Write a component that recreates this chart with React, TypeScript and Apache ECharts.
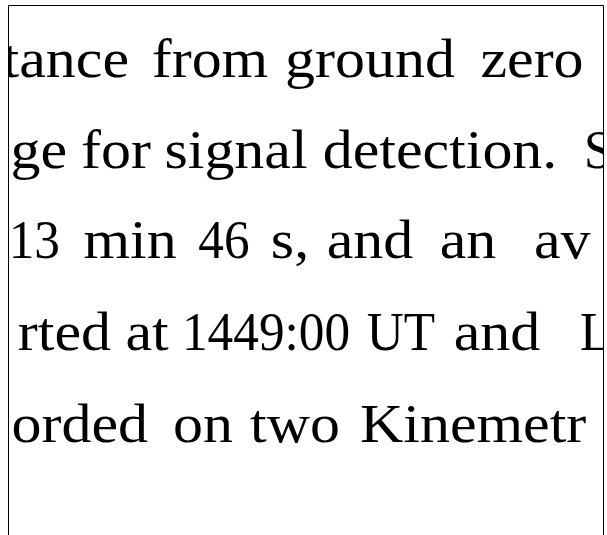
import React, { useEffect, useRef } from "react";
import * as echarts from "echarts";

// Text content of the cropped page (each row is one visible line of words)
const line1Words = ["tance", "from", "ground", "zero"];
const line2Words = ["ge", "for", "signal", "detection.", "S"];
const line3Words = ["13", "min", "46", "s,", "and", "an", "av"];
const line4Words = ["rted", "at", "1449:00", "UT", "and", "L"];
const line5Words = ["orded", "on", "two", "Kinemetr"];

const lines = [line1Words, line2Words, line3Words, line4Words, line5Words];

// Layout: first word anchored at its right end, last word at its left start,
// the others at their centres; and the baseline of each line
const wordAnchor = [
  [129, 210, 370, 532],
  [67, 116, 236, 440, 584],
  [60, 130, 224, 290, 370, 468, 534],
  [111, 147, 266, 401, 497, 580],
  [148, 203, 295, 360],
];
const baselines = [77, 168, 258, 350, 442];

const W = 607;
const H = 535;
const FS = 54;
const SX_LOWER = 1.11; // widen Liberation Serif lowercase towards a book face
const SX_OTHER = 0.95; // digits and capitals
const FRAME_L = 8;
const FRAME_R = 603;
const FRAME_T = 5;

export default function App() {
  const ref = useRef<HTMLDivElement>(null);
  useEffect(() => {
    const chart = echarts.init(ref.current!, null, { renderer: "svg" });
    const els: any[] = [];
    lines.forEach((words, li) => {
      words.forEach((w, wi) => {
        const last = wi === words.length - 1 && li !== 0;
        const align = wi === 0 ? "right" : last ? "left" : "center";
        const sx = /[a-z]/.test(w) ? SX_LOWER : SX_OTHER;
        els.push({
          type: "text",
          x: wordAnchor[li][wi],
          y: baselines[li] - 0.3375 * FS,
          scaleX: sx,
          z: 1,
          style: {
            text: w,
            font: `${FS}px "Liberation Serif"`,
            fill: "#000",
            align,
            verticalAlign: "middle",
          },
        });
      });
    });
    // white masks clipping the text at the frame
    els.push({ type: "rect", z: 5, shape: { x: 0, y: 0, width: FRAME_L, height: H }, style: { fill: "#fff" } });
    els.push({ type: "rect", z: 5, shape: { x: FRAME_R + 1, y: 0, width: W - FRAME_R, height: H }, style: { fill: "#fff" } });
    els.push({ type: "rect", z: 5, shape: { x: 0, y: 0, width: W, height: FRAME_T }, style: { fill: "#fff" } });
    // frame
    els.push({ type: "polyline", z: 10, shape: { points: [[FRAME_L + 0.5, H], [FRAME_L + 0.5, FRAME_T + 0.5], [FRAME_R + 0.5, FRAME_T + 0.5], [FRAME_R + 0.5, H]] }, style: { stroke: "#000", lineWidth: 1, fill: null } });

    chart.setOption({ animation: false, graphic: { elements: els } });
    return () => chart.dispose();
  }, []);
  return (
    <div
      ref={ref}
      style={{ position: "fixed", left: 0, top: 0, width: W, height: H, background: "#fff" }}
    />
  );
}
